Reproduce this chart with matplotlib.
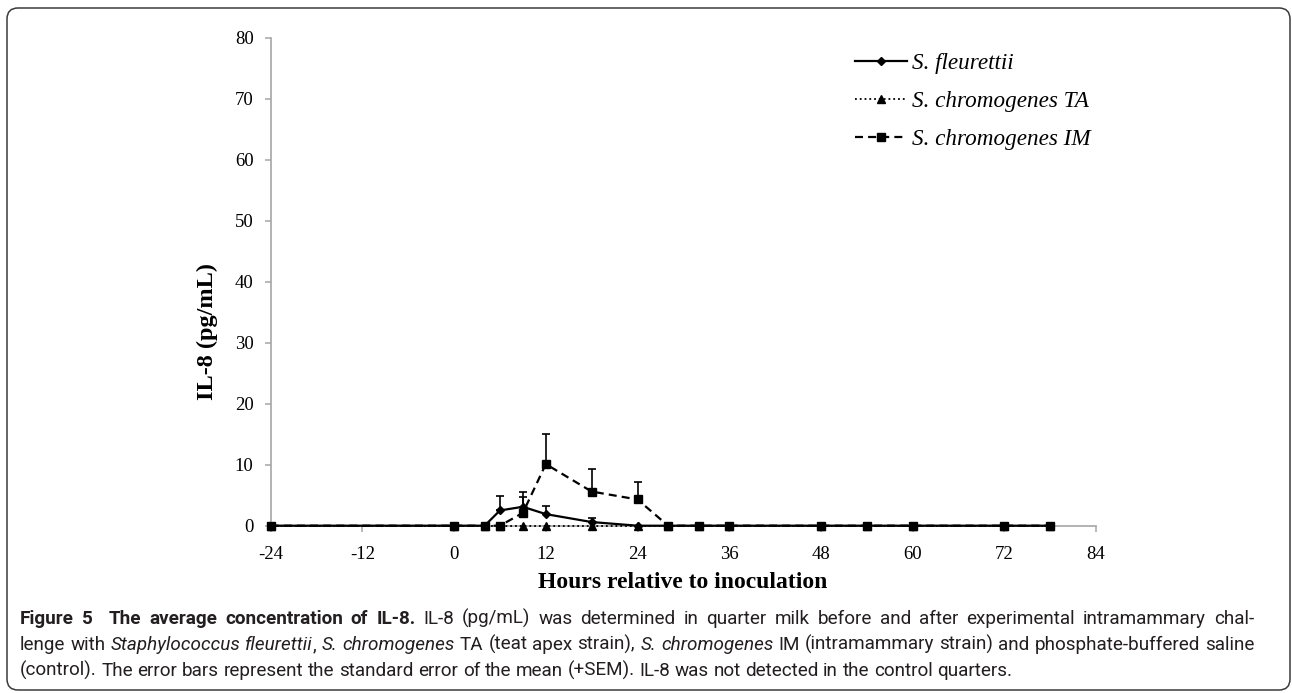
import numpy as np
import matplotlib
matplotlib.use("Agg")
import matplotlib.pyplot as plt
from matplotlib.patches import FancyBboxPatch

# sampling times (hours relative to inoculation)
hours = [-24, 0, 4, 6, 9, 12, 18, 24, 28, 32, 36, 48, 54, 60, 72, 78]

# mean IL-8 (pg/mL) per group
fleurettii = [0, 0, 0, 2.5, 3.1, 1.9, 0.6, 0, 0, 0, 0, 0, 0, 0, 0, 0]
chromo_ta = [0] * 16
chromo_im = [0, 0, 0, 0, 2.1, 10.1, 5.6, 4.3, 0, 0, 0, 0, 0, 0, 0, 0]

# standard error of the mean (upper bars only)
fleurettii_sem = [0, 0, 0, 2.4, 2.4, 1.3, 0.6, 0, 0, 0, 0, 0, 0, 0, 0, 0]
chromo_ta_sem = [0] * 16
chromo_im_sem = [0, 0, 0, 0, 2.6, 5.0, 3.7, 2.9, 0, 0, 0, 0, 0, 0, 0, 0]

series_names = ["S. fleurettii", "S. chromogenes TA", "S. chromogenes IM"]
x_ticks = [-24, -12, 0, 12, 24, 36, 48, 60, 72, 84]
y_ticks = [0, 10, 20, 30, 40, 50, 60, 70, 80]

caption_lines = [
    [("Figure 5  The average concentration of IL-8.", "bold"),
     (" IL-8 (pg/mL) was determined in quarter milk before and after experimental intramammary chal-", "normal")],
    [("lenge with ", "normal"), ("Staphylococcus fleurettii", "italic"), (", ", "normal"),
     ("S. chromogenes", "italic"), (" TA (teat apex strain), ", "normal"),
     ("S. chromogenes", "italic"), (" IM (intramammary strain) and phosphate-buffered saline", "normal")],
    [("(control). The error bars represent the standard error of the mean (+SEM). "
      "IL-8 was not detected in the control quarters.", "normal")],
]

W, H = 1292, 693
SERIF = "Liberation Serif"
SANS = ["Roboto", "DejaVu Sans"]

fig = plt.figure(figsize=(W / 100, H / 100), dpi=100)

# pixel-space layer for the frame and caption
bg = fig.add_axes([0, 0, 1, 1], zorder=0)
bg.set_xlim(0, W)
bg.set_ylim(H, 0)
bg.axis("off")
frame = FancyBboxPatch((7, 8), 1283, 682, boxstyle="round,pad=0,rounding_size=11",
                       fc="none", ec="#3a3a3a", lw=1.1)
bg.add_patch(frame)

ax = fig.add_axes([270.7 / W, 1 - 525.7 / H, (1096 - 270.7) / W, 488 / H], zorder=2)
ax.patch.set_alpha(0)

styles = [
    dict(ls="-", lw=1.6, marker="D", ms=4.5),
    dict(ls=":", lw=1.3, marker="^", ms=5.5),
    dict(ls=(0, (3.6, 2.3)), lw=1.6, marker="s", ms=5.5),
]
data = [(fleurettii, fleurettii_sem), (chromo_ta, chromo_ta_sem), (chromo_im, chromo_im_sem)]

handles = []
for (vals, sem), st, name in zip(data, styles, series_names):
    vals = np.array(vals, dtype=float)
    sem = np.array(sem, dtype=float)
    x = np.array(hours, dtype=float)
    m = sem > 0
    if m.any():
        ax.errorbar(x[m], vals[m], yerr=[np.zeros(m.sum()), sem[m]], fmt="none",
                    ecolor="black", elinewidth=1.2, capsize=3.2, capthick=1.2, zorder=3)
    ln, = ax.plot(x, vals, color="black", mfc="black", mec="black",
                  clip_on=False, zorder=4, label=name, **st)
    handles.append(ln)

ax.set_xlim(-24, 84)
ax.set_ylim(0, 80)
ax.set_xticks(x_ticks)
ax.set_yticks(y_ticks)
ax.set_xticklabels([str(t) for t in x_ticks], fontfamily=SERIF, fontsize=13.5)
ax.set_yticklabels([str(t) for t in y_ticks], fontfamily=SERIF, fontsize=13.5)
for s in ["top", "right"]:
    ax.spines[s].set_visible(False)
for s in ["left", "bottom"]:
    ax.spines[s].set_color("#a6a6a6")
    ax.spines[s].set_linewidth(1.2)
ax.tick_params(axis="both", direction="out", length=4.3, width=1.1, color="#a6a6a6")
ax.tick_params(axis="x", pad=10)
ax.tick_params(axis="y", pad=8)

fig.text(207 / W, 1 - 331 / H, "IL-8 (pg/mL)", rotation=90, ha="center", va="center",
         fontfamily=SERIF, fontweight="bold", fontsize=17.5)
fig.text(683 / W, 1 - 583 / H, "Hours relative to inoculation", ha="center", va="center",
         fontfamily=SERIF, fontweight="bold", fontsize=17)

ax.legend(handles=handles, loc="upper left", bbox_to_anchor=(855 / W, 1 - 53 / H),
          bbox_transform=fig.transFigure, frameon=False, borderpad=0, borderaxespad=0,
          handlelength=2.25, handletextpad=0.22, labelspacing=0.72, numpoints=1,
          prop=dict(family=SERIF, style="italic", size=16.7))

# caption, laid out word by word so the first two lines are justified
renderer = fig.canvas.get_renderer()
CAP_SIZE = 13.6
CAP_COLOR = "#231f20"


def text_kw(style):
    kw = dict(family=SANS, size=CAP_SIZE, color=CAP_COLOR)
    if style == "bold":
        kw["weight"] = "bold"
    elif style == "italic":
        kw["style"] = "italic"
    return kw


def width_of(s, style):
    t = bg.text(0, 0, s, **text_kw(style))
    w = t.get_window_extent(renderer).width
    t.remove()
    return w


def split_words(runs):
    # returns (pieces, spaces_before) per word; pieces are (text, style)
    chars = [(c, st) for txt, st in runs for c in txt]
    words, cur, spaces = [], [], 0
    for c, st in chars + [(" ", "normal")]:
        if c == " ":
            if cur:
                words.append((cur, spaces))
                cur, spaces = [], 0
            spaces += 1
        else:
            if cur and cur[-1][1] == st:
                cur[-1] = (cur[-1][0] + c, st)
            else:
                cur.append((c, st))
    return words


space_w = width_of("a a", "normal") - width_of("aa", "normal")
x0, x1 = 20, 1254
baselines = [624, 650, 676]
for i, (runs, yb) in enumerate(zip(caption_lines, baselines)):
    words = split_words(runs)
    widths = [[width_of(p, st) for p, st in w] for w, _ in words]
    total = sum(sum(w) for w in widths)
    n_spaces = sum(sp for _, sp in words[1:])
    justify = i < len(caption_lines) - 1
    gap = (x1 - x0 - total) / n_spaces if justify else space_w
    x = x0
    for k, ((w, sp), ws) in enumerate(zip(words, widths)):
        if k > 0:
            x += gap * sp
        for (p, st), pw in zip(w, ws):
            bg.text(x, yb, p, va="baseline", ha="left", **text_kw(st))
            x += pw

fig.savefig("out.png", dpi=100)
